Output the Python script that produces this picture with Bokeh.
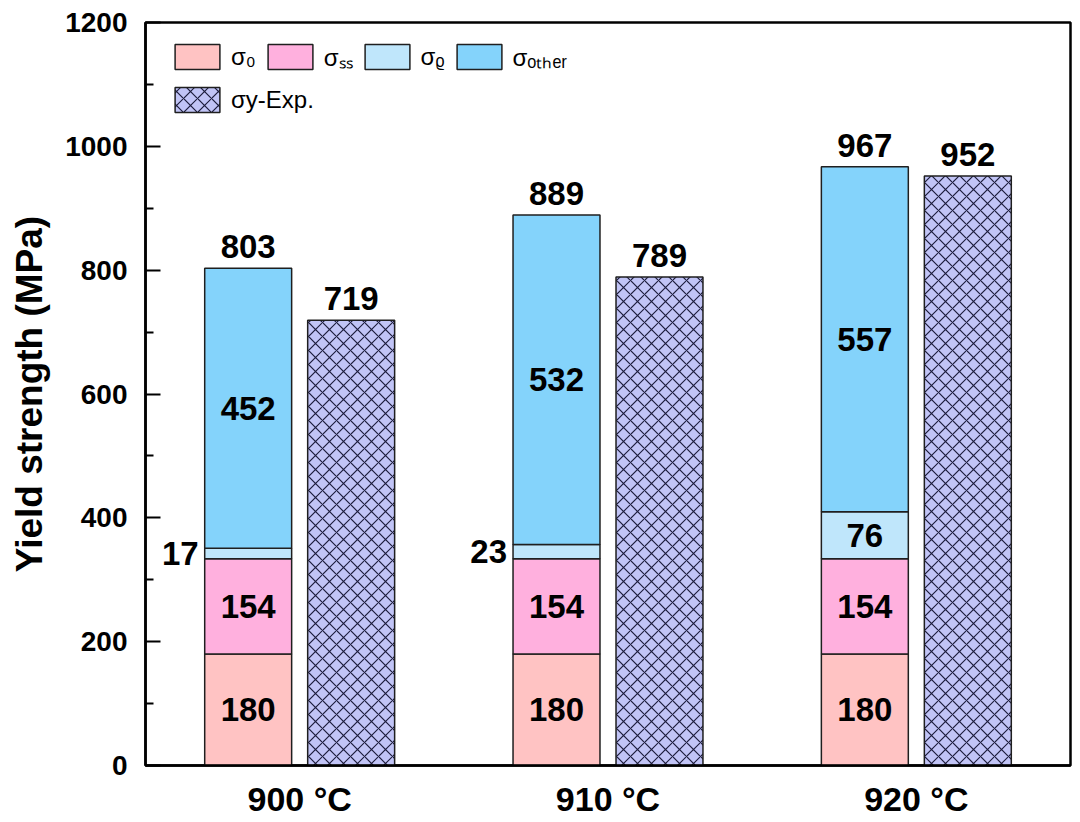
import numpy as np
from bokeh.plotting import figure
from bokeh.models import ColumnDataSource, Range1d, FixedTicker, Legend, LegendItem
from bokeh.core.properties import value
from bokeh.embed import file_html
from bokeh.resources import INLINE

# ---- data ----
categories = ["900 °C", "910 °C", "920 °C"]
sigma_0 = [180, 180, 180]
sigma_ss = [154, 154, 154]
sigma_rho = [17, 23, 76]
sigma_other = [452, 532, 557]
sigma_y_exp = [719, 789, 952]
y_ticks = [0, 200, 400, 600, 800, 1000, 1200]
legend_labels = ["σ₀", "σₛₛ", "σᵨ", "σₒₜₕₑᵣ", "σy-Exp."]

# ---- style ----
FONT = "Liberation Sans"
colors = ["#ffc3c3", "#ffb0de", "#bfe6fb", "#84d3fb"]
exp_color = "#c1c4f6"
edge = "#1f1f1f"

x = np.arange(1, len(categories) + 1, dtype=float)
off = 0.167
w = 0.282
xs = x - off
xe = x + off

s0 = np.array(sigma_0, dtype=float)
ss = np.array(sigma_ss, dtype=float)
rho = np.array(sigma_rho, dtype=float)
oth = np.array(sigma_other, dtype=float)
exp = np.array(sigma_y_exp, dtype=float)
total = s0 + ss + rho + oth

src = ColumnDataSource(dict(x=xs, s0=s0, ss=ss, rho=rho, other=oth))

p = figure(width=1076, height=820, x_range=Range1d(0.5, 3.5), y_range=Range1d(0, 1200),
           output_backend="svg", toolbar_location=None,
           min_border_left=145, min_border_top=22, min_border_right=6, min_border_bottom=54)
p.background_fill_color = "white"
p.border_fill_color = "white"
p.outline_line_color = "black"
p.outline_line_width = 2.5
p.xgrid.visible = False
p.ygrid.visible = False

rs = p.vbar_stack(["s0", "ss", "rho", "other"], x="x", width=w, source=src,
                  fill_color=colors, line_color=edge, line_width=1.5)

r_exp = p.vbar(x=xe, top=exp, width=w, fill_color=exp_color, line_color=edge, line_width=1.5,
               hatch_pattern="x", hatch_scale=14, hatch_color="#1c1c3c", hatch_weight=1.2)

# ---- labels inside segments ----
b1 = s0
b2 = s0 + ss
b3 = s0 + ss + rho
inside_x = list(xs) * 3
inside_y = list(s0 / 2) + list(b1 + ss / 2) + list(b3 + oth / 2)
inside_t = [str(int(v)) for v in s0] + [str(int(v)) for v in ss] + [str(int(v)) for v in oth]
big = rho >= 40
inside_x += list(xs[big])
inside_y += list((b2 + rho / 2)[big])
inside_t += [str(int(v)) for v in rho[big]]
p.text(x=inside_x, y=inside_y, text=inside_t, text_align="center", text_baseline="middle",
       text_font=value(FONT), text_font_style="bold", text_font_size="33px", text_color="black")

small = ~big
p.text(x=list(xs[small] - w / 2), y=list((b2 + rho / 2)[small]), text=[str(int(v)) for v in rho[small]],
       text_align="right", text_baseline="middle", x_offset=-6,
       text_font=value(FONT), text_font_style="bold", text_font_size="33px", text_color="black")

# ---- totals on top ----
p.text(x=list(xs) + list(xe), y=list(total) + list(exp),
       text=[str(int(v)) for v in total] + [str(int(v)) for v in exp],
       text_align="center", text_baseline="bottom", y_offset=-10,
       text_font=value(FONT), text_font_style="bold", text_font_size="33px", text_color="black")

# ---- axes ----
p.xaxis.ticker = FixedTicker(ticks=list(x))
p.xaxis.major_label_overrides = {float(v): c for v, c in zip(x, categories)}
p.xaxis.major_tick_in = 0
p.xaxis.major_tick_out = 0
p.xaxis.minor_tick_in = 0
p.xaxis.minor_tick_out = 0
p.xaxis.axis_line_width = 2.5
p.xaxis.major_label_text_font = FONT
p.xaxis.major_label_text_font_style = "bold"
p.xaxis.major_label_text_font_size = "34px"
p.xaxis.major_label_text_color = "black"
p.xaxis.major_label_standoff = 14

minor = [v + 100 for v in y_ticks[:-1]]
p.yaxis.ticker = FixedTicker(ticks=y_ticks, minor_ticks=minor)
p.yaxis.major_tick_in = 15
p.yaxis.major_tick_out = 0
p.yaxis.minor_tick_in = 8
p.yaxis.minor_tick_out = 0
p.yaxis.major_tick_line_width = 2.2
p.yaxis.minor_tick_line_width = 2.2
p.yaxis.axis_line_width = 2.5
p.yaxis.major_label_text_font = FONT
p.yaxis.major_label_text_font_style = "bold"
p.yaxis.major_label_text_font_size = "28px"
p.yaxis.major_label_text_color = "black"
p.yaxis.major_label_standoff = 18
p.yaxis.axis_label = "Yield strength (MPa)"
p.yaxis.axis_label_text_font = FONT
p.yaxis.axis_label_text_font_style = "bold"
p.yaxis.axis_label_text_font_size = "37px"
p.yaxis.axis_label_text_color = "black"
p.yaxis.axis_label_standoff = 12

# ---- legends ----
def make_legend(items, loc):
    lg = Legend(items=items, orientation="horizontal", location=loc,
                glyph_width=56, glyph_height=31, label_standoff=6, spacing=6,
                padding=0, margin=0, border_line_alpha=0, background_fill_alpha=0,
                label_text_font=FONT, label_text_font_size="24px", label_text_color="black")
    return lg

leg1 = make_legend([LegendItem(label=legend_labels[i], renderers=[rs[i]]) for i in range(4)], (24, 692))
leg2 = make_legend([LegendItem(label=legend_labels[4], renderers=[r_exp])], (24, 650))
p.add_layout(leg1)
p.add_layout(leg2)

open("out.html", "w").write(file_html(p, INLINE))
